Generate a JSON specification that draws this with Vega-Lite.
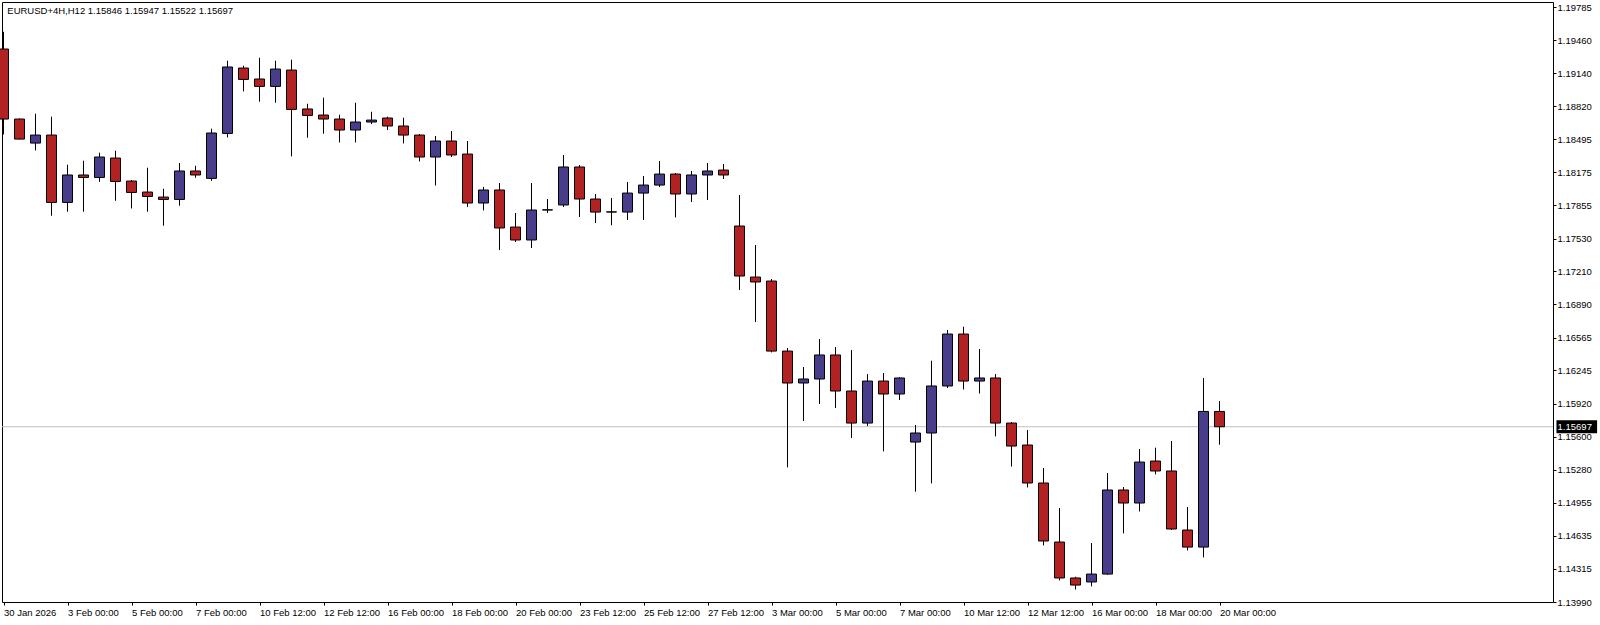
{
  "$schema": "https://vega.github.io/schema/vega-lite/v6.json",
  "width": 1551,
  "height": 600,
  "autosize": {"type": "none"},
  "padding": {"left": 2, "top": 2, "right": 47, "bottom": 23},
  "background": "#FFFFFF",
  "config": {
    "view": {"stroke": "#000000", "strokeWidth": 1},
    "font": "Liberation Sans",
    "axis": {"labelOverlap": false},
    "scale": {"continuousPadding": 0}
  },
  "datasets": {
    "candles": [
      {"i": 0, "o": 1.19376, "h": 1.19544, "l": 1.18544, "c": 1.18694},
      {"i": 1, "o": 1.18694, "h": 1.18700, "l": 1.18495, "c": 1.18499},
      {"i": 2, "o": 1.18460, "h": 1.18746, "l": 1.18388, "c": 1.18538},
      {"i": 3, "o": 1.18538, "h": 1.18717, "l": 1.17752, "c": 1.17882},
      {"i": 4, "o": 1.17882, "h": 1.18249, "l": 1.17791, "c": 1.18149},
      {"i": 5, "o": 1.18149, "h": 1.18288, "l": 1.17791, "c": 1.18125},
      {"i": 6, "o": 1.18125, "h": 1.18366, "l": 1.18083, "c": 1.18324},
      {"i": 7, "o": 1.18314, "h": 1.18385, "l": 1.17898, "c": 1.18086},
      {"i": 8, "o": 1.18090, "h": 1.18100, "l": 1.17823, "c": 1.17979},
      {"i": 9, "o": 1.17983, "h": 1.18220, "l": 1.17791, "c": 1.17940},
      {"i": 10, "o": 1.17934, "h": 1.18015, "l": 1.17655, "c": 1.17911},
      {"i": 11, "o": 1.17911, "h": 1.18266, "l": 1.17850, "c": 1.18188},
      {"i": 12, "o": 1.18188, "h": 1.18239, "l": 1.18122, "c": 1.18149},
      {"i": 13, "o": 1.18116, "h": 1.18600, "l": 1.18093, "c": 1.18558},
      {"i": 14, "o": 1.18554, "h": 1.19262, "l": 1.18515, "c": 1.19201},
      {"i": 15, "o": 1.19191, "h": 1.19213, "l": 1.18963, "c": 1.19080},
      {"i": 16, "o": 1.19084, "h": 1.19291, "l": 1.18863, "c": 1.19012},
      {"i": 17, "o": 1.19012, "h": 1.19262, "l": 1.18853, "c": 1.19181},
      {"i": 18, "o": 1.19171, "h": 1.19272, "l": 1.18330, "c": 1.18788},
      {"i": 19, "o": 1.18792, "h": 1.18843, "l": 1.18512, "c": 1.18729},
      {"i": 20, "o": 1.18733, "h": 1.18902, "l": 1.18551, "c": 1.18694},
      {"i": 21, "o": 1.18694, "h": 1.18736, "l": 1.18466, "c": 1.18587},
      {"i": 22, "o": 1.18587, "h": 1.18853, "l": 1.18466, "c": 1.18665},
      {"i": 23, "o": 1.18665, "h": 1.18765, "l": 1.18645, "c": 1.18684},
      {"i": 24, "o": 1.18704, "h": 1.18717, "l": 1.18587, "c": 1.18626},
      {"i": 25, "o": 1.18626, "h": 1.18707, "l": 1.18457, "c": 1.18538},
      {"i": 26, "o": 1.18538, "h": 1.18548, "l": 1.18281, "c": 1.18324},
      {"i": 27, "o": 1.18324, "h": 1.18529, "l": 1.18047, "c": 1.18480},
      {"i": 28, "o": 1.18480, "h": 1.18577, "l": 1.18324, "c": 1.18344},
      {"i": 29, "o": 1.18353, "h": 1.18480, "l": 1.17837, "c": 1.17876},
      {"i": 30, "o": 1.17876, "h": 1.18032, "l": 1.17804, "c": 1.18003},
      {"i": 31, "o": 1.18003, "h": 1.18071, "l": 1.17418, "c": 1.17633},
      {"i": 32, "o": 1.17642, "h": 1.17779, "l": 1.17496, "c": 1.17516},
      {"i": 33, "o": 1.17516, "h": 1.18071, "l": 1.17438, "c": 1.17808},
      {"i": 34, "o": 1.17808, "h": 1.17915, "l": 1.17779, "c": 1.17810},
      {"i": 35, "o": 1.17857, "h": 1.18344, "l": 1.17837, "c": 1.18227},
      {"i": 36, "o": 1.18227, "h": 1.18246, "l": 1.17740, "c": 1.17915},
      {"i": 37, "o": 1.17915, "h": 1.17964, "l": 1.17681, "c": 1.17788},
      {"i": 38, "o": 1.17790, "h": 1.17925, "l": 1.17660, "c": 1.17788},
      {"i": 39, "o": 1.17788, "h": 1.18081, "l": 1.17710, "c": 1.17973},
      {"i": 40, "o": 1.17973, "h": 1.18139, "l": 1.17710, "c": 1.18051},
      {"i": 41, "o": 1.18051, "h": 1.18285, "l": 1.18032, "c": 1.18158},
      {"i": 42, "o": 1.18158, "h": 1.18168, "l": 1.17736, "c": 1.17964},
      {"i": 43, "o": 1.17964, "h": 1.18188, "l": 1.17886, "c": 1.18149},
      {"i": 44, "o": 1.18149, "h": 1.18266, "l": 1.17905, "c": 1.18188},
      {"i": 45, "o": 1.18197, "h": 1.18256, "l": 1.18110, "c": 1.18149},
      {"i": 46, "o": 1.17652, "h": 1.17954, "l": 1.17029, "c": 1.17165},
      {"i": 47, "o": 1.17155, "h": 1.17467, "l": 1.16717, "c": 1.17107},
      {"i": 48, "o": 1.17116, "h": 1.17136, "l": 1.16421, "c": 1.16434},
      {"i": 49, "o": 1.16434, "h": 1.16464, "l": 1.15301, "c": 1.16123},
      {"i": 50, "o": 1.16123, "h": 1.16279, "l": 1.15753, "c": 1.16162},
      {"i": 51, "o": 1.16162, "h": 1.16551, "l": 1.15918, "c": 1.16396},
      {"i": 52, "o": 1.16396, "h": 1.16473, "l": 1.15879, "c": 1.16045},
      {"i": 53, "o": 1.16045, "h": 1.16444, "l": 1.15587, "c": 1.15733},
      {"i": 54, "o": 1.15733, "h": 1.16210, "l": 1.15704, "c": 1.16142},
      {"i": 55, "o": 1.16142, "h": 1.16220, "l": 1.15457, "c": 1.16016},
      {"i": 56, "o": 1.16016, "h": 1.16181, "l": 1.15957, "c": 1.16172},
      {"i": 57, "o": 1.15548, "h": 1.15714, "l": 1.15064, "c": 1.15636},
      {"i": 58, "o": 1.15636, "h": 1.16340, "l": 1.15145, "c": 1.16094},
      {"i": 59, "o": 1.16094, "h": 1.16639, "l": 1.16074, "c": 1.16600},
      {"i": 60, "o": 1.16600, "h": 1.16671, "l": 1.16060, "c": 1.16142},
      {"i": 61, "o": 1.16142, "h": 1.16454, "l": 1.16021, "c": 1.16172},
      {"i": 62, "o": 1.16172, "h": 1.16210, "l": 1.15603, "c": 1.15733},
      {"i": 63, "o": 1.15733, "h": 1.15743, "l": 1.15310, "c": 1.15509},
      {"i": 64, "o": 1.15519, "h": 1.15665, "l": 1.15106, "c": 1.15149},
      {"i": 65, "o": 1.15149, "h": 1.15295, "l": 1.14541, "c": 1.14584},
      {"i": 66, "o": 1.14574, "h": 1.14905, "l": 1.14200, "c": 1.14224},
      {"i": 67, "o": 1.14224, "h": 1.14236, "l": 1.14112, "c": 1.14155},
      {"i": 68, "o": 1.14185, "h": 1.14564, "l": 1.14142, "c": 1.14262},
      {"i": 69, "o": 1.14262, "h": 1.15246, "l": 1.14255, "c": 1.15081},
      {"i": 70, "o": 1.15081, "h": 1.15110, "l": 1.14658, "c": 1.14954},
      {"i": 71, "o": 1.14954, "h": 1.15480, "l": 1.14872, "c": 1.15353},
      {"i": 72, "o": 1.15363, "h": 1.15493, "l": 1.15233, "c": 1.15266},
      {"i": 73, "o": 1.15266, "h": 1.15558, "l": 1.14691, "c": 1.14701},
      {"i": 74, "o": 1.14691, "h": 1.14915, "l": 1.14492, "c": 1.14525},
      {"i": 75, "o": 1.14525, "h": 1.16172, "l": 1.14424, "c": 1.15846},
      {"i": 76, "o": 1.15846, "h": 1.15947, "l": 1.15522, "c": 1.15697}
    ],
    "last": [{"p": 1.15697, "label": "1.15697"}],
    "info": [{"label": "EURUSD+4H,H12  1.15846 1.15947 1.15522 1.15697"}]
  },
  "layer": [
    {
      "data": {"name": "last"},
      "mark": {"type": "rule", "color": "#C0C0C0", "strokeWidth": 1},
      "encoding": {
        "y": {"field": "p", "type": "quantitative"}
      }
    },
    {
      "data": {"name": "candles"},
      "mark": {"type": "rule", "color": "#000000", "strokeWidth": 1},
      "encoding": {
        "x": {
          "field": "i",
          "type": "quantitative",
          "scale": {"domain": [-0.09375, 96.84375], "nice": false, "zero": false, "padding": 0},
          "axis": {
            "orient": "bottom",
            "title": null,
            "values": [0, 4, 8, 12, 16, 20, 24, 28, 32, 36, 40, 44, 48, 52, 56, 60, 64, 68, 72, 76],
            "tickCount": 40,
            "labelExpr": "['30 Jan 2026','3 Feb 00:00','5 Feb 00:00','7 Feb 00:00','10 Feb 12:00','12 Feb 12:00','16 Feb 00:00','18 Feb 00:00','20 Feb 00:00','23 Feb 12:00','25 Feb 12:00','27 Feb 12:00','3 Mar 00:00','5 Mar 00:00','7 Mar 00:00','10 Mar 12:00','12 Mar 12:00','16 Mar 00:00','18 Mar 00:00','20 Mar 00:00'][round(datum.value/4)]",
            "grid": false,
            "domain": false,
            "ticks": true,
            "tickSize": 3,
            "tickColor": "#000000",
            "labelAlign": "left",
            "labelPadding": 2,
            "labelFont": "Liberation Sans",
            "labelFontSize": 9.5,
            "labelColor": "#000000",
            "labelOverlap": false,
            "labelBound": false,
            "labelFlush": false
          }
        },
        "y": {
          "field": "l",
          "type": "quantitative",
          "scale": {"domain": [1.1399, 1.19834], "nice": false, "zero": false, "padding": 0},
          "axis": {
            "orient": "right",
            "title": null,
            "values": [1.19785, 1.1946, 1.1914, 1.1882, 1.18495, 1.18175, 1.17855, 1.1753, 1.1721, 1.1689, 1.16565, 1.16245, 1.1592, 1.156, 1.1528, 1.14955, 1.14635, 1.14315, 1.1399],
            "tickCount": 40,
            "format": ".5f",
            "grid": false,
            "domain": false,
            "ticks": true,
            "tickSize": 3,
            "tickColor": "#000000",
            "tickWidth": 1,
            "labelPadding": 1,
            "labelFont": "Liberation Sans",
            "labelFontSize": 9.5,
            "labelColor": "#000000",
            "labelBaseline": "middle",
            "labelOverlap": false,
            "labelBound": false,
            "labelFlush": false
          }
        },
        "y2": {"field": "h"}
      }
    },
    {
      "data": {"name": "candles"},
      "mark": {"type": "bar", "size": 10, "stroke": "#000000", "strokeWidth": 1},
      "encoding": {
        "x": {"field": "i", "type": "quantitative"},
        "y": {"field": "o", "type": "quantitative"},
        "y2": {"field": "c"},
        "fill": {
          "condition": {"test": "datum.c > datum.o", "value": "#483D8B"},
          "value": "#B22222"
        }
      }
    },
    {
      "data": {"name": "last"},
      "mark": {"type": "bar", "size": 13, "color": "#000000"},
      "encoding": {
        "y": {"field": "p", "type": "quantitative"},
        "x": {"datum": 97.06},
        "x2": {"datum": 99.6}
      }
    },
    {
      "data": {"name": "last"},
      "mark": {"type": "text", "align": "left", "baseline": "middle", "color": "#FFFFFF", "font": "Liberation Sans", "fontSize": 9.5},
      "encoding": {
        "y": {"field": "p", "type": "quantitative"},
        "x": {"datum": 97.13},
        "text": {"field": "label"}
      }
    },
    {
      "data": {"name": "info"},
      "mark": {"type": "text", "align": "left", "baseline": "middle", "color": "#000000", "font": "Liberation Sans", "fontSize": 9.5},
      "encoding": {
        "x": {"datum": 0.2375},
        "y": {"datum": 1.19746},
        "text": {"field": "label"}
      }
    }
  ]
}
